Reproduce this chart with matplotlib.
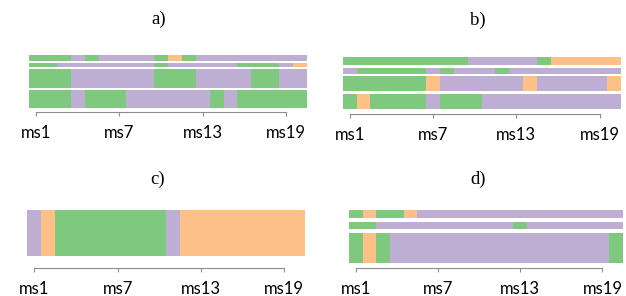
import matplotlib
matplotlib.use("Agg")
import matplotlib.pyplot as plt

# colours of the three states (Accent palette)
colors = {"G": "#7fc97f", "P": "#beaed4", "O": "#fdc086"}

# one letter per marker position ms1..ms20, one string per row
rows_a = ["GGGPGPPPPGOGPPPPPPPP",
          "GGPPPPPPPGPPPPPGGGPO",
          "GGGPPPPPPGGGPPPPGGPP",
          "GGGPGGGPPPPPPGPGGGGG"]
rows_b = ["GGGGGGGGGPPPPPGOOOOO",
          "PGGGGGPGPPPGPPPPPPPP",
          "GGGGGGOPPPPPPOPPPPPO",
          "GOGGGGPGGGPPPPPPPPPP"]
rows_c = ["POGGGGGGGGPOOOOOOOOO"]
rows_d = ["GOGGOPPPPPPPPPPPPPPP",
          "GGPPPPPPPPPPGPPPPPPP",
          "GOGPPPPPPPPPPPPPPPPG"]

# relative row thickness
h_a = [6, 3.5, 19, 18.5]
h_b = [8.3, 5.7, 14.7, 15]
h_c = [46.6]
h_d = [8.3, 7.7, 30]

tick_pos = [1, 7, 13, 19]
tick_lab = ["ms1", "ms7", "ms13", "ms19"]

W, H = 626, 296
fig = plt.figure(figsize=(W / 100, H / 100), dpi=100)


def runs(s):
    out = []
    start = 0
    for i in range(1, len(s) + 1):
        if i == len(s) or s[i] != s[start]:
            out.append((start + 1, i - start, s[start]))
            start = i
    return out


def panel(rows, heights, gap, x0, x1, top, title, tx, ty, spine_off):
    total = sum(heights) + gap * (len(heights) - 1)
    ax = fig.add_axes([x0 / W, 1 - (top + total) / H, (x1 - x0) / W, total / H])
    y = 0
    for s, h in zip(rows, heights):
        for start, n, c in runs(s):
            ax.barh(y + h / 2, n, height=h, left=start - 0.5, color=colors[c],
                    linewidth=0)
        y += h + gap
    ax.set_xlim(0.5, len(rows[0]) + 0.5)
    ax.set_ylim(total, 0)
    for sp in ["top", "left", "right"]:
        ax.spines[sp].set_visible(False)
    ax.spines["bottom"].set_position(("outward", spine_off))
    ax.spines["bottom"].set_bounds(tick_pos[0], tick_pos[-1])
    ax.spines["bottom"].set_color("#8c8c8c")
    ax.spines["bottom"].set_linewidth(0.8)
    ax.set_yticks([])
    ax.set_xticks(tick_pos)
    ax.set_xticklabels(tick_lab, fontfamily="Lato", fontsize=12)
    ax.tick_params(axis="x", length=3, width=0.8, color="#8c8c8c", pad=6)
    fig.text(tx / W, 1 - ty / H, title, ha="center", va="center",
             fontfamily="Liberation Serif", fontsize=13.5)
    return ax


panel(rows_a, h_a, 2.0, 29.1, 306.9, 55, "a)", 159, 19, 3)
panel(rows_b, h_b, 2.8, 342.7, 620.5, 56.7, "b)", 478, 20, 4)
panel(rows_c, h_c, 0, 27.4, 305.2, 209.7, "c)", 158, 179, 8.6)
panel(rows_d, h_d, 3.5, 348.8, 623.0, 209.7, "d)", 478, 179, 4)

fig.savefig("out.png", dpi=100)
